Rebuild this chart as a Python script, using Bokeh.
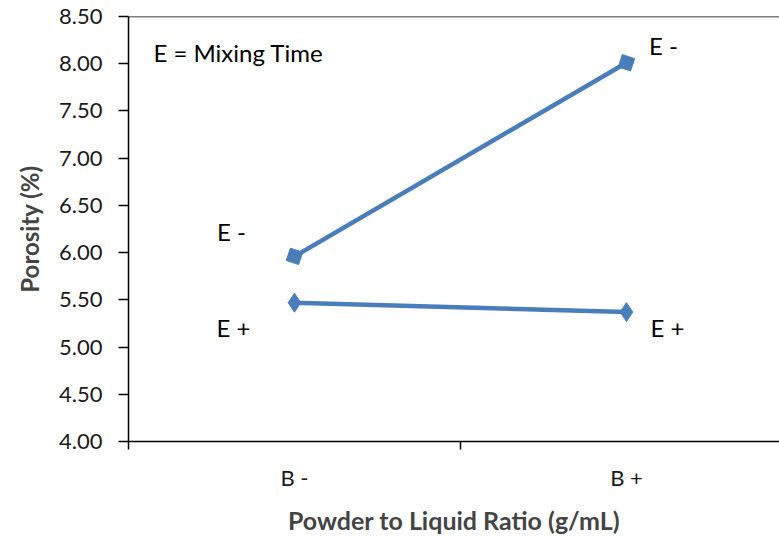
from bokeh.plotting import figure
from bokeh.models import FixedTicker, NumeralTickFormatter, Span, Label, ColumnDataSource
from bokeh.core.properties import value
from bokeh.embed import file_html
from bokeh.resources import INLINE

# ---- data ----
categories = ["B -", "B +"]
cat_pos = [0.5, 1.5]
e_minus = [5.96, 8.01]
e_plus = [5.47, 5.37]
y_ticks = [4.0, 4.5, 5.0, 5.5, 6.0, 6.5, 7.0, 7.5, 8.0, 8.5]
series_label_minus = "E -"
series_label_plus = "E +"
note_text = "E = Mixing Time"
x_title = "Powder to Liquid Ratio (g/mL)"
y_title = "Porosity (%)"

BLUE = "#4A7EBB"
FONT = "Lato"

p = figure(width=779, height=537, output_backend="svg", toolbar_location=None,
           x_range=(0, 1.961), y_range=(4.0, 8.5),
           min_border_left=128, min_border_right=0, min_border_top=16, min_border_bottom=10)
p.outline_line_color = None
p.grid.visible = False
p.background_fill_color = "white"
p.border_fill_color = "white"

# y axis
ya = p.yaxis[0]
ya.ticker = FixedTicker(ticks=y_ticks)
ya.formatter = NumeralTickFormatter(format="0.00")
ya.major_tick_out = 10
ya.major_tick_in = 0
ya.minor_tick_line_color = None
ya.major_label_standoff = 16
ya.major_label_text_font = FONT
ya.major_label_text_font_size = "22px"
ya.major_label_text_color = "#1a1a1a"
ya.axis_line_width = 1.5
ya.major_tick_line_width = 1.5
ya.axis_label = y_title
ya.axis_label_text_font = FONT
ya.axis_label_text_font_style = "bold"
ya.axis_label_text_font_size = "24px"
ya.axis_label_standoff = 12

# x axis: labels at category centers, tick marks at boundaries (as minor ticks)
xa = p.xaxis[0]
xa.ticker = FixedTicker(ticks=cat_pos, minor_ticks=[0.0, 1.0, 2.0])
xa.major_label_overrides = {cat_pos[0]: categories[0], cat_pos[1]: categories[1]}
xa.major_tick_line_color = None
xa.major_tick_out = 8
xa.minor_tick_out = 8
xa.minor_tick_in = 0
xa.minor_tick_line_width = 1.5
xa.axis_line_width = 1.5
xa.major_label_standoff = 14
xa.major_label_text_font = FONT
xa.major_label_text_font_size = "22px"
xa.major_label_text_color = "#1a1a1a"
xa.axis_label = x_title
xa.axis_label_text_font = FONT
xa.axis_label_text_font_style = "bold"
xa.axis_label_text_font_size = "25px"
xa.axis_label_standoff = 11

# top border
p.add_layout(Span(location=8.5, dimension="width", line_color="black", line_width=1.5))

# series
p.line(cat_pos, e_minus, line_color=BLUE, line_width=4.5)
p.scatter(cat_pos, e_minus, marker="square", size=13, angle=-0.32,
          fill_color=BLUE, line_color=BLUE)
p.line(cat_pos, e_plus, line_color=BLUE, line_width=4.5)
p.scatter(cat_pos, e_plus, marker="diamond", size=19,
          fill_color=BLUE, line_color=BLUE)

# data labels
src_m = ColumnDataSource(dict(x=cat_pos, y=e_minus, t=[series_label_minus] * 2,
                              dx=[-63, 37], dy=[-25, -17]))
src_p = ColumnDataSource(dict(x=cat_pos, y=e_plus, t=[series_label_plus] * 2,
                              dx=[-61, 41], dy=[25, 15]))
for src in (src_m, src_p):
    p.text(x="x", y="y", text="t", x_offset="dx", y_offset="dy", source=src,
           text_font=value(FONT), text_font_size="24px", text_color="black",
           text_align="center", text_baseline="middle")

# note text box (top-left of the plot area)
p.add_layout(Label(x=0.075, y=8.12, text=note_text,
                   text_font=FONT, text_font_size="24px", text_color="black",
                   text_baseline="middle", text_align="left"))

open("out.html", "w").write(file_html(p, INLINE))
